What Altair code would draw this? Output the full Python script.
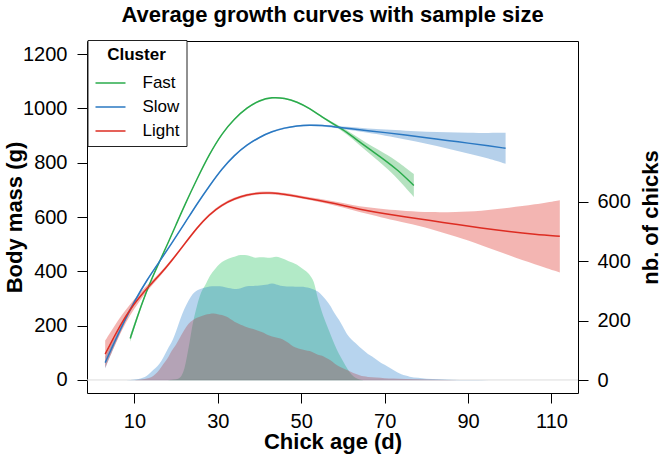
import altair as alt
import pandas as pd

# ---- growth curves: fitted body mass (g) and half-width of the confidence band ----
fast_age = [9, 10, 12, 14, 16, 18, 20, 22, 25, 28, 31, 34, 37, 40, 43, 46, 49, 52, 55, 58, 61, 64, 67, 70, 73, 77]
fast_mass = [153, 200, 290, 368, 435, 502, 572, 642, 740, 832, 908, 962, 1003, 1030, 1041, 1038, 1024, 1000, 968, 940, 912, 876, 843, 810, 775, 716]
fast_hw = [12, 10, 6, 4, 3, 3, 3, 3, 3, 3, 3, 3, 3, 3, 3, 3, 3, 3, 3, 5, 8, 12, 17, 24, 31, 42]

slow_age = [3, 5, 7, 10, 13, 16, 19, 22, 25, 28, 31, 34, 37, 40, 43, 46, 49, 52, 55, 58, 62, 66, 70, 75, 80, 85, 90, 95, 99]
slow_mass = [64, 132, 198, 290, 368, 435, 505, 575, 648, 715, 778, 828, 866, 894, 915, 928, 936, 939, 937, 932, 925, 918, 911, 902, 892, 882, 872, 862, 853]
slow_hw = [22, 15, 10, 6, 4, 3, 3, 3, 3, 3, 3, 3, 3, 3, 3, 3, 3, 3, 3, 4, 6, 8, 11, 16, 22, 30, 38, 47, 57]

light_age = [3, 5, 7, 9, 11, 13, 16, 19, 22, 25, 28, 31, 34, 37, 40, 43, 46, 50, 54, 58, 62, 66, 70, 75, 81, 87, 93, 100, 106, 112]
light_mass = [95, 155, 212, 260, 300, 338, 385, 440, 500, 560, 610, 645, 668, 682, 689, 689, 684, 673, 662, 650, 636, 623, 612, 600, 587, 573, 560, 546, 536, 529]
light_hw = [50, 38, 28, 20, 15, 11, 7, 5, 5, 5, 5, 5, 5, 5, 5, 5, 5, 5, 6, 7, 9, 12, 16, 22, 30, 45, 62, 88, 110, 133]

# ---- sample size: number of chicks measured at each age ----
fast_n_age = [18, 20, 21, 22, 23, 24, 25, 26, 27, 28, 29, 30, 31, 32, 33, 34, 35, 36, 37, 38, 39, 40, 41, 42, 43, 44, 45, 46, 47, 48, 49, 50, 51, 52, 53, 54, 55, 56, 57, 58, 59, 60, 61, 62, 63, 64, 65]
fast_n = [0, 3, 10, 40, 110, 190, 250, 295, 320, 348, 368, 385, 398, 405, 411, 415, 420, 421, 420, 416, 412, 414, 414, 412, 413, 415, 412, 407, 400, 395, 388, 378, 368, 355, 330, 275, 228, 190, 155, 120, 90, 65, 40, 20, 8, 2, 0]

slow_n_age = [8, 10, 12, 13, 14, 15, 16, 17, 18, 19, 20, 21, 22, 23, 24, 25, 26, 27, 28, 29, 30, 31, 32, 33, 34, 35, 36, 37, 38, 39, 40, 41, 42, 43, 44, 45, 46, 47, 48, 49, 50, 51, 52, 53, 54, 55, 56, 57, 58, 59, 60, 61, 62, 63, 64, 65, 66, 67, 68, 69, 70, 71, 72, 73, 74, 75, 76, 78, 80, 83, 86, 90, 95, 112]
slow_n = [0, 2, 8, 15, 28, 40, 55, 78, 105, 130, 165, 205, 240, 268, 290, 302, 308, 312, 315, 316, 316, 315, 312, 309, 307, 308, 312, 316, 317, 318, 319, 320, 322, 325, 322, 318, 316, 315, 315, 314, 314, 313, 310, 305, 298, 285, 269, 250, 225, 204, 180, 155, 138, 125, 112, 100, 88, 80, 70, 60, 52, 44, 35, 27, 20, 16, 12, 8, 5, 3, 1.5, 0.5, 0, 0]

light_n_age = [10, 12, 14, 15, 16, 17, 18, 19, 20, 21, 22, 23, 24, 25, 26, 27, 28, 29, 30, 31, 32, 33, 34, 35, 36, 37, 38, 39, 40, 41, 42, 43, 44, 45, 46, 47, 48, 49, 50, 51, 52, 53, 54, 55, 56, 57, 58, 59, 60, 61, 62, 63, 64, 65, 66, 68, 70, 72, 75, 80, 85, 90]
light_n = [0, 3, 10, 20, 35, 55, 75, 100, 120, 145, 170, 190, 202, 210, 215, 220, 223, 224, 222, 219, 214, 206, 197, 190, 184, 178, 174, 170, 165, 160, 152, 147, 144, 140, 134, 125, 114, 108, 104, 101, 98, 92, 86, 82, 75, 67, 56, 47, 40, 34, 28, 22, 17, 13, 11, 9, 7, 6, 4, 2, 1, 0]

clusters = ["Fast", "Slow", "Light"]
line_colors = ["#2aab4b", "#2a78c2", "#dd2c22"]
count_fills = ["#00b845", "#106fc6", "#b03336"]

x_ticks = [10, 30, 50, 70, 90, 110]
mass_ticks = [0, 200, 400, 600, 800, 1000, 1200]
count_ticks = [0, 200, 400, 600]

FONT = "Liberation Sans"

# ---- tables ----
def curve_table(name, ages, mass, hw):
    return pd.DataFrame({
        "cluster": [name] * len(ages),
        "age": ages,
        "mass": mass,
        "lo": [m - h for m, h in zip(mass, hw)],
        "hi": [m + h for m, h in zip(mass, hw)],
    })

curve_tables = [curve_table("Fast", fast_age, fast_mass, fast_hw),
                curve_table("Slow", slow_age, slow_mass, slow_hw),
                curve_table("Light", light_age, light_mass, light_hw)]
curves = pd.concat(curve_tables, ignore_index=True)

def counts_table(ages, n):
    return pd.DataFrame({"age": ages, "n": n, "zero": [0] * len(ages)})

x_scale = alt.Scale(domain=[-1.36, 116.36], nice=False, zero=False)
mass_scale = alt.Scale(domain=[-48, 1248], nice=False, zero=False)
count_scale = alt.Scale(domain=[-43, 1141], nice=False, zero=False)

axis_style = dict(domain=False, grid=False, tickSize=10, tickColor="black", tickWidth=1,
                  format="d", labelFont=FONT, labelFontSize=20, labelColor="black",
                  titleFont=FONT, titleFontSize=22, titleFontWeight="bold", titleColor="black")

x_enc = alt.X("age:Q", scale=x_scale,
              axis=alt.Axis(values=x_ticks, title="Chick age (d)", labelPadding=8,
                            titleX=245.5, titleY=48, titleBaseline="middle", **axis_style))

mass_axis = alt.Axis(values=mass_ticks, title="Body mass (g)", orient="left", labelPadding=10,
                     titleAngle=270, titleX=-73, titleY=176, titleBaseline="middle", **axis_style)

# confidence bands around the fitted curves, one per cluster
band_layers = []
for tbl, col in zip(curve_tables, line_colors):
    band_layers.append(
        alt.Chart(tbl).mark_area(color=col, opacity=0.35, interpolate="basis").encode(
            x=x_enc,
            y=alt.Y("lo:Q", scale=mass_scale, axis=mass_axis),
            y2="hi:Q",
        )
    )

# fitted growth curves
lines = alt.Chart(curves).mark_line(strokeWidth=1.5, interpolate="basis").encode(
    x="age:Q",
    y=alt.Y("mass:Q", scale=mass_scale),
    color=alt.Color("cluster:N", scale=alt.Scale(domain=clusters, range=line_colors),
                    sort=clusters,
                    legend=alt.Legend(title="Cluster", orient="none", legendX=0.5, legendY=-1,
                                      symbolType="stroke", symbolSize=900, symbolStrokeWidth=1.5,
                                      labelFont=FONT, labelFontSize=17, labelColor="black",
                                      titleFont=FONT, titleFontSize=17, titleFontWeight="bold",
                                      titleColor="black", titleAnchor="middle", titlePadding=3,
                                      labelOffset=16, rowPadding=-7, padding=7,
                                      strokeColor="#222222", fillColor="white")),
)

zero_line = alt.Chart().mark_rule(color="#dcdcdc", strokeWidth=1).encode(
    y=alt.datum(0, scale=mass_scale))

mass_layer = alt.layer(*band_layers, lines, zero_line)

# number of chicks per age, one shaded area per cluster
count_layers = []
for ages, n, col in [(fast_n_age, fast_n, count_fills[0]),
                     (slow_n_age, slow_n, count_fills[1]),
                     (light_n_age, light_n, count_fills[2])]:
    count_layers.append(
        alt.Chart(counts_table(ages, n)).mark_area(color=col, opacity=0.3, interpolate="monotone").encode(
            x="age:Q",
            y=alt.Y("n:Q", scale=count_scale,
                    axis=alt.Axis(values=count_ticks, title="nb. of chicks", orient="right", labelPadding=9,
                                  titleAngle=270, titleX=72, titleY=176, titleBaseline="middle", **axis_style)),
            y2="zero:Q",
        )
    )
count_layer = alt.layer(*count_layers)

chart = alt.layer(mass_layer, count_layer).resolve_scale(
    y="independent"
).properties(
    width=491, height=352,
    padding={"left": 87, "top": 41, "right": 83, "bottom": 63},
    autosize=alt.AutoSizeParams(type="none"),
    background="white",
    title=alt.TitleParams("Average growth curves with sample size", font=FONT, fontSize=22,
                          fontWeight="bold", color="black", anchor="middle",
                          baseline="alphabetic", offset=4, dy=8),
).configure_view(stroke="black", strokeWidth=1)

chart.save("out.html", embed_options={"renderer": "svg", "actions": False})
